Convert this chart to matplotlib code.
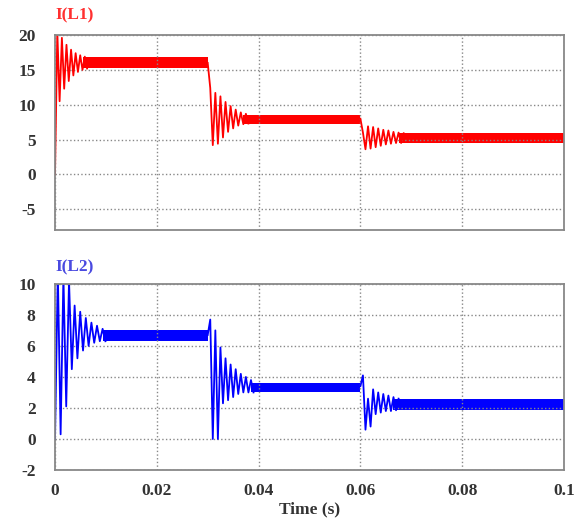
import numpy as np
import matplotlib.pyplot as plt

# ---- values ----
# ringing after each load step: alternating extremes, start time, half period
l1_ring = [
    [0, 20.5, 10.5, 19.6, 12.3, 18.6, 13.4, 17.9, 14.2, 17.4, 14.7, 17.1, 15.0, 16.9, 15.2],
    [16.0, 12.4, 4.2, 11.7, 4.4, 11.2, 5.3, 10.4, 6.1, 9.8, 6.6, 9.3, 7.0, 8.9, 7.2, 8.7, 7.3],
    [8.0, 6.0, 3.6, 6.9, 3.7, 6.8, 3.9, 6.6, 4.1, 6.4, 4.3, 6.3, 4.4, 6.1, 4.5, 6.0, 4.5, 5.9],
]
l1_t0 = [0.0, 0.0300, 0.0600]
l1_half = [0.00045, 0.0005, 0.0005]
# steady ripple band: start, end, low, high
l1_band_t = [(0.0055, 0.0300), (0.0370, 0.0600), (0.0675, 0.1)]
l1_band_lo = [15.2, 7.3, 4.5]
l1_band_hi = [16.8, 8.5, 5.9]

l2_ring = [
    [0, 10.8, 0.3, 10.5, 2.1, 10.2, 4.5, 8.6, 5.2, 8.2, 5.7, 7.8, 6.0, 7.5, 6.2, 7.3, 6.3, 7.1, 6.3],
    [6.7, 7.7, 0.0, 7.0, 0.0, 5.9, 2.3, 5.2, 2.5, 4.8, 2.7, 4.5, 2.9, 4.2, 3.0, 4.0, 3.0, 3.8, 3.0],
    [3.4, 4.1, 0.6, 2.6, 0.8, 3.2, 1.6, 3.0, 1.7, 2.9, 1.8, 2.8, 1.8, 2.7, 1.85, 2.6],
]
l2_t0 = [0.0, 0.0300, 0.0600]
l2_half = [0.00055, 0.0005, 0.0005]
l2_band_t = [(0.0095, 0.0300), (0.0385, 0.0600), (0.0665, 0.1)]
l2_band_lo = [6.3, 3.0, 1.85]
l2_band_hi = [7.0, 3.6, 2.55]

xticks = [0, 0.02, 0.04, 0.06, 0.08, 0.1]
xticklabels = ['0', '0.02', '0.04', '0.06', '0.08', '0.1']
l1_yticks = [-5, 0, 5, 10, 15, 20]
l2_yticks = [-2, 0, 2, 4, 6, 8, 10]

plt.rcParams['font.family'] = 'Liberation Serif'
plt.rcParams['font.weight'] = 'bold'
plt.rcParams['axes.unicode_minus'] = False

fig = plt.figure(figsize=(5.81, 5.23), dpi=100)
ax1 = fig.add_axes([0.0947, 0.560, 0.876, 0.373])
ax2 = fig.add_axes([0.0947, 0.1013, 0.876, 0.356])


def draw(ax, rings, t0s, halves, band_t, lo, hi, color):
    for vals, t0, h in zip(rings, t0s, halves):
        t = t0 + h * np.arange(len(vals))
        ax.plot(t, vals, color=color, lw=1.3)
    for (a, b), l, u in zip(band_t, lo, hi):
        ax.fill_between([a, b], [l, l], [u, u], color=color, lw=0)


draw(ax1, l1_ring, l1_t0, l1_half, l1_band_t, l1_band_lo, l1_band_hi, '#ff0000')
draw(ax2, l2_ring, l2_t0, l2_half, l2_band_t, l2_band_lo, l2_band_hi, '#0000ff')

for ax, yt, ylim in [(ax1, l1_yticks, (-8, 20)), (ax2, l2_yticks, (-2, 10))]:
    ax.set_xlim(0, 0.1)
    ax.set_ylim(*ylim)
    ax.set_yticks(yt)
    ax.set_xticks(xticks)
    ax.grid(True, color='#888888', ls=':', lw=1.0)
    ax.tick_params(length=0, labelsize=12.5, colors='#333333')
    ax.tick_params(axis='y', pad=14)
    ax.tick_params(axis='x', pad=9)
    for s in ax.spines.values():
        s.set_color('#888888')
        s.set_linewidth(1.3)

ax1.set_xticklabels([])
ax2.set_xticklabels(xticklabels)
ax2.set_xlabel('Time (s)', fontsize=12.5, fontweight='bold', color='#333333', labelpad=2)

fig.text(0.0947, 0.962, 'I(L1)', color='#ff3030', fontsize=12.5, fontweight='bold')
fig.text(0.0947, 0.481, 'I(L2)', color='#4a4ae0', fontsize=12.5, fontweight='bold')

fig.savefig('out.png', dpi=100)
